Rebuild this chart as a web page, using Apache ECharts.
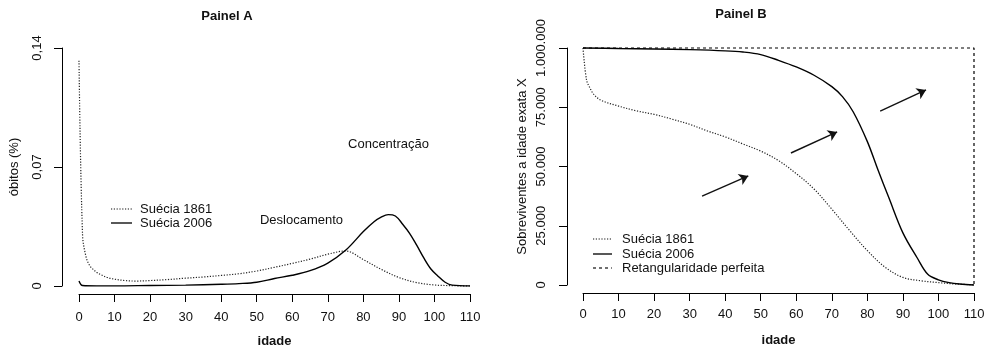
<!DOCTYPE html>
<html>
<head>
<meta charset="utf-8">
<script src="https://cdn.jsdelivr.net/npm/echarts@6/dist/echarts.min.js"></script>
<style>html,body{margin:0;padding:0;background:#fff}#c{width:988px;height:348px}</style>
</head>
<body>
<div id="c"></div>
<script>
// ---- Data ----
const xTicks = [0,10,20,30,40,50,60,70,80,90,100,110];
const yTicksA = ['0','0,07','0,14'];
const yTicksB = ['0','25.000','50.000','75.000','1.000.000'];

// Painel A: óbitos (dx) by age
const agesA1861 = [0,1,2,3,4,5,6,8,10,13,16,20,25,30,35,40,45,50,55,60,65,70,75,80,85,90,95,100,105,110];
const dxA1861   = [0.1325,0.030,0.017,0.012,0.0098,0.008,0.0068,0.005,0.004,0.0032,0.0029,0.0032,0.0038,0.0046,0.0053,0.0062,0.0072,0.0088,0.011,0.0133,0.0158,0.0187,0.0206,0.0155,0.0098,0.005,0.002,0.0006,0.0002,0];
const agesA2006 = [0,1,5,10,20,30,40,45,50,55,60,65,70,75,80,83,85,87,89,91,93,95,97,99,101,103,105,110];
const dxA2006   = [0.003,0.0003,0.0001,0.0001,0.0003,0.0005,0.001,0.0014,0.0022,0.0044,0.0063,0.009,0.0135,0.021,0.032,0.0378,0.0405,0.042,0.0412,0.0365,0.031,0.024,0.0165,0.010,0.0058,0.0022,0.0005,0.0001];

// Painel B: sobreviventes (lx) by age
const agesB1861 = [0,1,2,3,5,10,15,20,25,30,35,40,45,50,55,60,65,70,75,80,85,90,95,100,105,110];
const lxB1861   = [100000,86500,83000,80500,78000,75500,73500,72000,70000,67800,65000,62500,59500,56500,52500,47000,40500,32000,23000,14500,7500,3200,1800,1000,400,100];
const agesB2006 = [0,10,20,30,40,45,50,55,60,65,70,73,76,80,83,86,90,94,97,100,103,106,110];
const lxB2006   = [100000,99800,99600,99300,98800,98300,97200,94800,92000,88500,83700,79500,73100,60500,48500,37000,22000,11500,4500,2200,1000,400,0];
const agesRect  = [0,110,110];
const lxRect    = [100000,100000,0];

// arrows in Painel B: [x0,y0,x1,y1]
const arrows = [
  [33.5,37500,46.5,46000],
  [58.5,55700,71.5,64600],
  [83.6,73400,96.5,82300]
];

const FONT = '"Liberation Sans", Arial, Helvetica, sans-serif';
const DOT = [1.2,1.6];
const DASH = [3,3];
const zip = (a,b) => a.map((v,i)=>[v,b[i]]);

const chart = echarts.init(document.getElementById('c'), null, {renderer:'canvas'});

function xAxisCfg(gridIndex, margin){
  return {
    type:'value', gridIndex, min:0, max:110, interval:10, offset:8,
    axisLine:{show:true, onZero:false, lineStyle:{color:'#000', width:1}},
    axisTick:{show:true, length:8, lineStyle:{color:'#000'}},
    axisLabel:{show:true, margin, fontSize:13, color:'#111', fontFamily:FONT,
      showMinLabel:true, showMaxLabel:true, hideOverlap:false},
    splitLine:{show:false},
    name:'idade', nameLocation:'middle', nameGap:41,
    nameTextStyle:{fontSize:13, fontWeight:'bold', color:'#111', fontFamily:FONT}
  };
}

function legendItems(x0, x1, xt, rows){
  const out = [];
  rows.forEach(r=>{
    out.push({type:'line', shape:{x1:x0, y1:r.y, x2:x1, y2:r.y},
      style:{stroke:'#111', lineWidth:r.w, lineDash:r.dash}});
    out.push({type:'text', x:xt, y:r.y, style:{text:r.t, font:'13px '+FONT, fill:'#111', textVerticalAlign:'middle'}});
  });
  return out;
}

const option = {
  backgroundColor:'#fff',
  animation:false,
  grid:[
    {left:79, right:518, top:48, bottom:62, containLabel:false, outerBoundsMode:'none'},
    {left:583, right:14, top:48, bottom:63, containLabel:false, outerBoundsMode:'none'}
  ],
  xAxis:[xAxisCfg(0,17), xAxisCfg(1,15)],
  yAxis:[
    {type:'value', gridIndex:0, min:0, max:0.14, interval:0.07, offset:17,
     axisLine:{show:true, onZero:false, lineStyle:{color:'#000'}},
     axisTick:{show:true, length:8, lineStyle:{color:'#000'}},
     axisLabel:{rotate:90, margin:18, fontSize:13, color:'#111', fontFamily:FONT,
       showMinLabel:true, showMaxLabel:true,
       formatter:(v)=>yTicksA[Math.round(v/0.07)]},
     splitLine:{show:false},
     name:'óbitos (%)', nameLocation:'middle', nameGap:41, nameRotate:90,
     nameTextStyle:{fontSize:13, color:'#111', fontFamily:FONT}},
    {type:'value', gridIndex:1, min:0, max:100000, interval:25000, offset:16,
     axisLine:{show:true, onZero:false, lineStyle:{color:'#000'}},
     axisTick:{show:true, length:8, lineStyle:{color:'#000'}},
     axisLabel:{rotate:90, margin:19, fontSize:13, color:'#111', fontFamily:FONT,
       showMinLabel:true, showMaxLabel:true,
       formatter:(v)=>yTicksB[Math.round(v/25000)]},
     splitLine:{show:false},
     name:'Sobreviventes a idade exata X', nameLocation:'middle', nameGap:38, nameRotate:90,
     nameTextStyle:{fontSize:13, color:'#111', fontFamily:FONT}}
  ],
  graphic:[
    {type:'text', x:227, y:16, style:{text:'Painel A', font:'bold 13px '+FONT, fill:'#111', textAlign:'center', textVerticalAlign:'middle'}},
    {type:'text', x:741, y:14, style:{text:'Painel B', font:'bold 13px '+FONT, fill:'#111', textAlign:'center', textVerticalAlign:'middle'}},
    {type:'text', x:301.5, y:220, style:{text:'Deslocamento', font:'13px '+FONT, fill:'#111', textAlign:'center', textVerticalAlign:'middle'}},
    {type:'text', x:388.5, y:144, style:{text:'Concentração', font:'13px '+FONT, fill:'#111', textAlign:'center', textVerticalAlign:'middle'}}
  ].concat(
    legendItems(111,132,140,[
      {y:209, t:'Suécia 1861', w:1.2, dash:DOT},
      {y:223, t:'Suécia 2006', w:1.4, dash:null}
    ]),
    legendItems(593,612,622,[
      {y:239, t:'Suécia 1861', w:1.2, dash:DOT},
      {y:254, t:'Suécia 2006', w:1.4, dash:null},
      {y:268, t:'Retangularidade perfeita', w:1.2, dash:DASH}
    ])
  ),
  series:[
    {type:'line', name:'Suécia 1861', xAxisIndex:0, yAxisIndex:0, data:zip(agesA1861,dxA1861),
     symbol:'none', smooth:0.35, clip:false,
     lineStyle:{color:'#222', width:1.2, type:DOT}},
    {type:'line', name:'Suécia 2006', xAxisIndex:0, yAxisIndex:0, data:zip(agesA2006,dxA2006),
     symbol:'none', smooth:0.35, clip:false,
     lineStyle:{color:'#000', width:1.4, type:'solid'}},
    {type:'line', name:'Suécia 1861', xAxisIndex:1, yAxisIndex:1, data:zip(agesB1861,lxB1861),
     symbol:'none', smooth:0.35, clip:false,
     lineStyle:{color:'#222', width:1.2, type:DOT}},
    {type:'line', name:'Suécia 2006', xAxisIndex:1, yAxisIndex:1, data:zip(agesB2006,lxB2006),
     symbol:'none', smooth:0.35, clip:false,
     lineStyle:{color:'#000', width:1.4, type:'solid'}},
    {type:'line', name:'Retangularidade perfeita', xAxisIndex:1, yAxisIndex:1, data:zip(agesRect,lxRect),
     symbol:'none', clip:false,
     lineStyle:{color:'#000', width:1.2, type:DASH}},
    {type:'lines', coordinateSystem:'cartesian2d', xAxisIndex:1, yAxisIndex:1,
     symbol:['none','arrow'], symbolSize:9,
     lineStyle:{color:'#111', width:1.4, opacity:1},
     data:arrows.map(a=>({coords:[[a[0],a[1]],[a[2],a[3]]]}))}
  ]
};
chart.setOption(option);
</script>
</body>
</html>
